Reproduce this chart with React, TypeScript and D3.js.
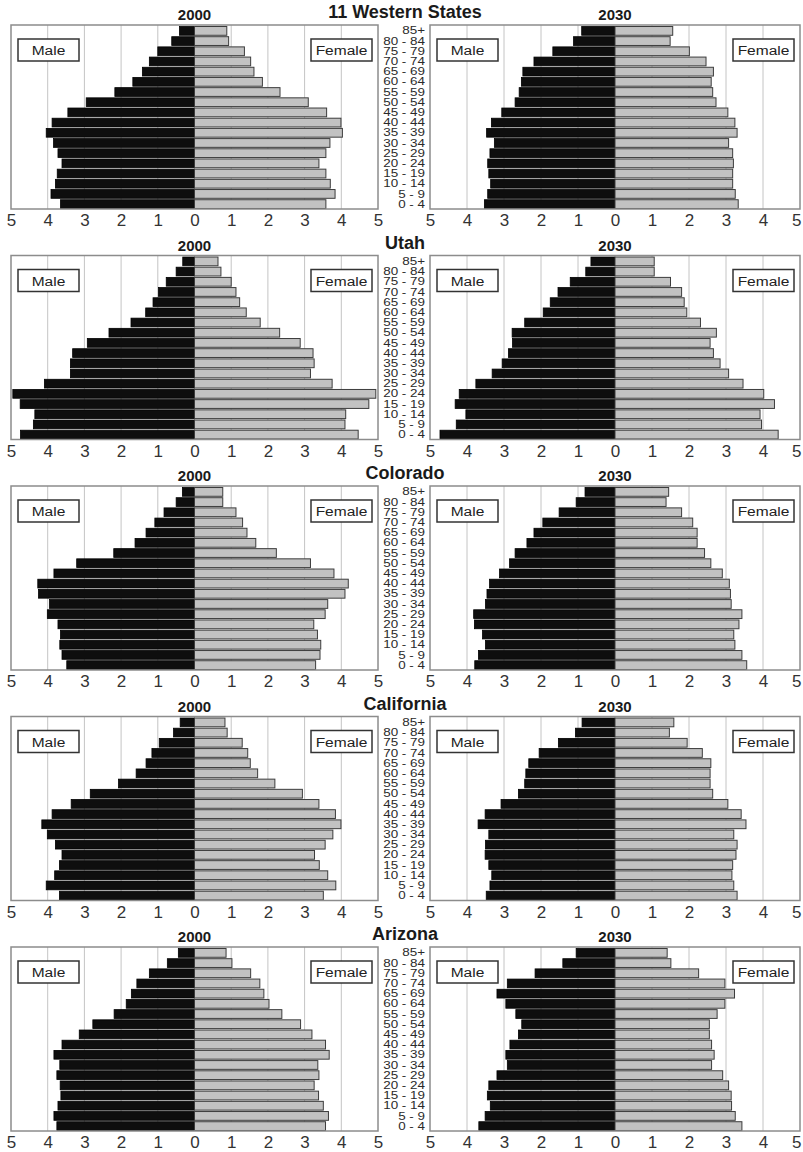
import React, { useRef, useEffect } from 'react';
import * as d3 from 'd3';

// age groups, top of pyramid first
const ageGroups = ['85+', '80 - 84', '75 - 79', '70 - 74', '65 - 69', '60 - 64', '55 - 59', '50 - 54', '45 - 49',
  '40 - 44', '35 - 39', '30 - 34', '25 - 29', '20 - 24', '15 - 19', '10 - 14', '5 - 9', '0 - 4'];
const stateNames = ['11 Western States', 'Utah', 'Colorado', 'California', 'Arizona'];
const years = ['2000', '2030'];
const tickValues = [-5, -4, -3, -2, -1, 0, 1, 2, 3, 4, 5];

// percent of population
const westMale2000 = [0.41, 0.62, 1.0, 1.23, 1.42, 1.68, 2.17, 2.95, 3.45, 3.88, 4.04, 3.84, 3.72, 3.61, 3.74, 3.79, 3.91, 3.65];
const westFemale2000 = [0.88, 0.93, 1.36, 1.53, 1.62, 1.85, 2.33, 3.1, 3.6, 3.99, 4.03, 3.69, 3.58, 3.39, 3.58, 3.7, 3.83, 3.58];
const westMale2030 = [0.9, 1.12, 1.68, 2.19, 2.49, 2.53, 2.59, 2.7, 3.06, 3.34, 3.47, 3.26, 3.38, 3.44, 3.41, 3.36, 3.44, 3.53];
const westFemale2030 = [1.56, 1.49, 2.01, 2.46, 2.66, 2.6, 2.64, 2.73, 3.05, 3.24, 3.3, 3.07, 3.18, 3.2, 3.18, 3.18, 3.25, 3.33];

const utahMale2000 = [0.32, 0.5, 0.77, 0.98, 1.13, 1.33, 1.73, 2.33, 2.92, 3.32, 3.38, 3.38, 4.09, 4.95, 4.75, 4.35, 4.39, 4.74];
const utahFemale2000 = [0.64, 0.72, 1.0, 1.13, 1.23, 1.41, 1.79, 2.32, 2.88, 3.23, 3.26, 3.16, 3.75, 4.94, 4.75, 4.12, 4.1, 4.46];
const utahMale2030 = [0.65, 0.79, 1.21, 1.54, 1.75, 1.94, 2.44, 2.78, 2.77, 2.88, 3.05, 3.32, 3.76, 4.21, 4.32, 4.03, 4.29, 4.73];
const utahFemale2030 = [1.06, 1.06, 1.5, 1.8, 1.87, 1.94, 2.31, 2.74, 2.57, 2.66, 2.84, 3.07, 3.46, 4.02, 4.31, 3.92, 3.96, 4.41];

const coloMale2000 = [0.33, 0.5, 0.83, 1.08, 1.32, 1.62, 2.2, 3.21, 3.83, 4.27, 4.25, 3.95, 4.01, 3.72, 3.65, 3.67, 3.61, 3.48];
const coloFemale2000 = [0.77, 0.77, 1.13, 1.31, 1.43, 1.67, 2.23, 3.16, 3.8, 4.19, 4.1, 3.63, 3.56, 3.25, 3.35, 3.44, 3.42, 3.3];
const coloMale2030 = [0.81, 1.05, 1.51, 1.95, 2.19, 2.38, 2.7, 2.85, 3.12, 3.39, 3.46, 3.5, 3.82, 3.8, 3.58, 3.5, 3.69, 3.79];
const coloFemale2030 = [1.45, 1.38, 1.8, 2.1, 2.22, 2.22, 2.42, 2.59, 2.9, 3.09, 3.12, 3.14, 3.43, 3.35, 3.21, 3.24, 3.43, 3.56];

const califMale2000 = [0.39, 0.57, 0.96, 1.16, 1.32, 1.59, 2.07, 2.84, 3.36, 3.88, 4.16, 4.01, 3.79, 3.61, 3.68, 3.81, 4.04, 3.68];
const califFemale2000 = [0.83, 0.89, 1.3, 1.45, 1.52, 1.72, 2.19, 2.94, 3.39, 3.84, 3.99, 3.77, 3.56, 3.27, 3.4, 3.63, 3.85, 3.51];
const califMale2030 = [0.89, 1.07, 1.53, 2.05, 2.33, 2.41, 2.44, 2.61, 3.08, 3.51, 3.7, 3.41, 3.5, 3.51, 3.41, 3.33, 3.38, 3.48];
const califFemale2030 = [1.59, 1.47, 1.95, 2.36, 2.59, 2.57, 2.57, 2.64, 3.05, 3.41, 3.54, 3.21, 3.3, 3.27, 3.18, 3.16, 3.21, 3.3];

const arizMale2000 = [0.44, 0.74, 1.23, 1.57, 1.72, 1.86, 2.19, 2.77, 3.14, 3.61, 3.83, 3.67, 3.75, 3.66, 3.64, 3.72, 3.83, 3.75];
const arizFemale2000 = [0.86, 1.02, 1.53, 1.78, 1.89, 2.03, 2.38, 2.89, 3.2, 3.57, 3.67, 3.36, 3.39, 3.26, 3.38, 3.51, 3.65, 3.57];
const arizMale2030 = [1.05, 1.41, 2.16, 2.91, 3.19, 2.95, 2.68, 2.52, 2.61, 2.84, 2.95, 2.91, 3.19, 3.41, 3.45, 3.37, 3.51, 3.68];
const arizFemale2030 = [1.41, 1.51, 2.26, 2.97, 3.23, 2.97, 2.76, 2.55, 2.55, 2.61, 2.68, 2.61, 2.91, 3.07, 3.14, 3.15, 3.25, 3.43];

const rows = [
  [[westMale2000, westFemale2000], [westMale2030, westFemale2030]],
  [[utahMale2000, utahFemale2000], [utahMale2030, utahFemale2030]],
  [[coloMale2000, coloFemale2000], [coloMale2030, coloFemale2030]],
  [[califMale2000, califFemale2000], [califMale2030, califFemale2030]],
  [[arizMale2000, arizFemale2000], [arizMale2030, arizFemale2030]],
];

const W = 803;
const H = 1152;
const FONT = 'Liberation Sans, Arial, Helvetica, sans-serif';

const App = () => {
  const svgRef = useRef<SVGSVGElement>(null);

  useEffect(() => {
    const svg = d3.select(svgRef.current);
    svg.selectAll('*').remove();
    svg.attr('width', W).attr('height', H).style('background', '#fff');

    const panelX = [[11, 378], [430, 800]];
    const plotH = 184;

    rows.forEach((row, ri) => {
      const top = 25 + ri * 230.5;
      const bottom = top + plotH;

      const y = d3.scaleBand<string>()
        .domain(ageGroups)
        .range([top + 1, bottom])
        .paddingInner(0.14)
        .paddingOuter(0.05);

      // state title
      svg.append('text')
        .attr('x', 405).attr('y', top - 7)
        .attr('text-anchor', 'middle')
        .attr('font-family', FONT).attr('font-weight', 'bold').attr('font-size', 18)
        .attr('fill', '#1a1a1a')
        .text(stateNames[ri]);

      // age labels in the middle column
      svg.append('g').selectAll('text')
        .data(ageGroups)
        .enter()
        .append('text')
        .attr('transform', d => `translate(425,${(y(d) as number) + y.bandwidth() / 2 + 3.6}) scale(1.28,1)`)
        .attr('text-anchor', 'end')
        .attr('font-family', FONT).attr('font-size', 10.5)
        .attr('fill', '#2a2a2a')
        .text(d => d);

      row.forEach(([male, female], pi) => {
        const [x0, x1] = panelX[pi];
        const x = d3.scaleLinear().domain([-5, 5]).range([x0, x1]);
        const g = svg.append('g');

        g.append('rect')
          .attr('x', x0).attr('y', top).attr('width', x1 - x0).attr('height', plotH)
          .attr('fill', '#fff');

        // grid
        g.selectAll('line.grid')
          .data(tickValues.filter(t => t !== 0 && Math.abs(t) !== 5))
          .enter()
          .append('line')
          .attr('x1', d => x(d)).attr('x2', d => x(d))
          .attr('y1', top).attr('y2', bottom)
          .attr('stroke', '#c4c4c4').attr('stroke-width', 1);

        // male bars (left)
        g.selectAll('rect.male')
          .data(male)
          .enter()
          .append('rect')
          .attr('x', d => x(-d))
          .attr('y', (d, i) => y(ageGroups[i]) as number)
          .attr('width', d => x(0) - x(-d))
          .attr('height', y.bandwidth())
          .attr('fill', '#0e0e0e')
          .attr('stroke', '#000').attr('stroke-width', 0.8);

        // female bars (right)
        g.selectAll('rect.female')
          .data(female)
          .enter()
          .append('rect')
          .attr('x', x(0))
          .attr('y', (d, i) => y(ageGroups[i]) as number)
          .attr('width', d => x(d) - x(0))
          .attr('height', y.bandwidth())
          .attr('fill', '#c2c2c2')
          .attr('stroke', '#3c3c3c').attr('stroke-width', 1);

        // frame
        g.append('rect')
          .attr('x', x0).attr('y', top).attr('width', x1 - x0).attr('height', plotH)
          .attr('fill', 'none').attr('stroke', '#8c8c8c').attr('stroke-width', 1.5);

        // year title
        g.append('text')
          .attr('x', x(0)).attr('y', top - 5)
          .attr('text-anchor', 'middle')
          .attr('font-family', FONT).attr('font-weight', 'bold').attr('font-size', 15)
          .attr('fill', '#1a1a1a')
          .text(years[pi]);

        // Male / Female boxes
        const boxes = [
          { label: 'Male', bx: x0 + 7 },
          { label: 'Female', bx: x1 - 67 },
        ];
        boxes.forEach(b => {
          g.append('rect')
            .attr('x', b.bx).attr('y', top + 14).attr('width', 61).attr('height', 22)
            .attr('fill', '#fff').attr('stroke', '#333').attr('stroke-width', 1.5);
          g.append('text')
            .attr('transform', `translate(${b.bx + 30.5},${top + 30}) scale(1.15,1)`)
            .attr('text-anchor', 'middle')
            .attr('font-family', FONT).attr('font-size', 13.5)
            .attr('fill', '#222')
            .text(b.label);
        });

        // x axis labels (absolute values)
        const axis = d3.axisBottom(x)
          .tickValues(tickValues)
          .tickSize(0)
          .tickPadding(0)
          .tickFormat(d => String(Math.abs(d as number)));
        const ag = g.append('g')
          .attr('transform', `translate(0,${bottom + 5})`)
          .call(axis);
        ag.select('.domain').remove();
        ag.selectAll('text')
          .attr('font-family', FONT).attr('font-size', 17)
          .attr('fill', '#333');
        // keep the right-most label inside the page
        if (pi === 1) {
          ag.selectAll<SVGTextElement, number>('text')
            .filter(d => d === 5)
            .attr('text-anchor', 'end')
            .attr('dx', 1);
        }
      });
    });
  }, []);

  return <svg ref={svgRef} style={{ position: 'absolute', left: 0, top: 0, display: 'block' }}></svg>;
};

export default App;
